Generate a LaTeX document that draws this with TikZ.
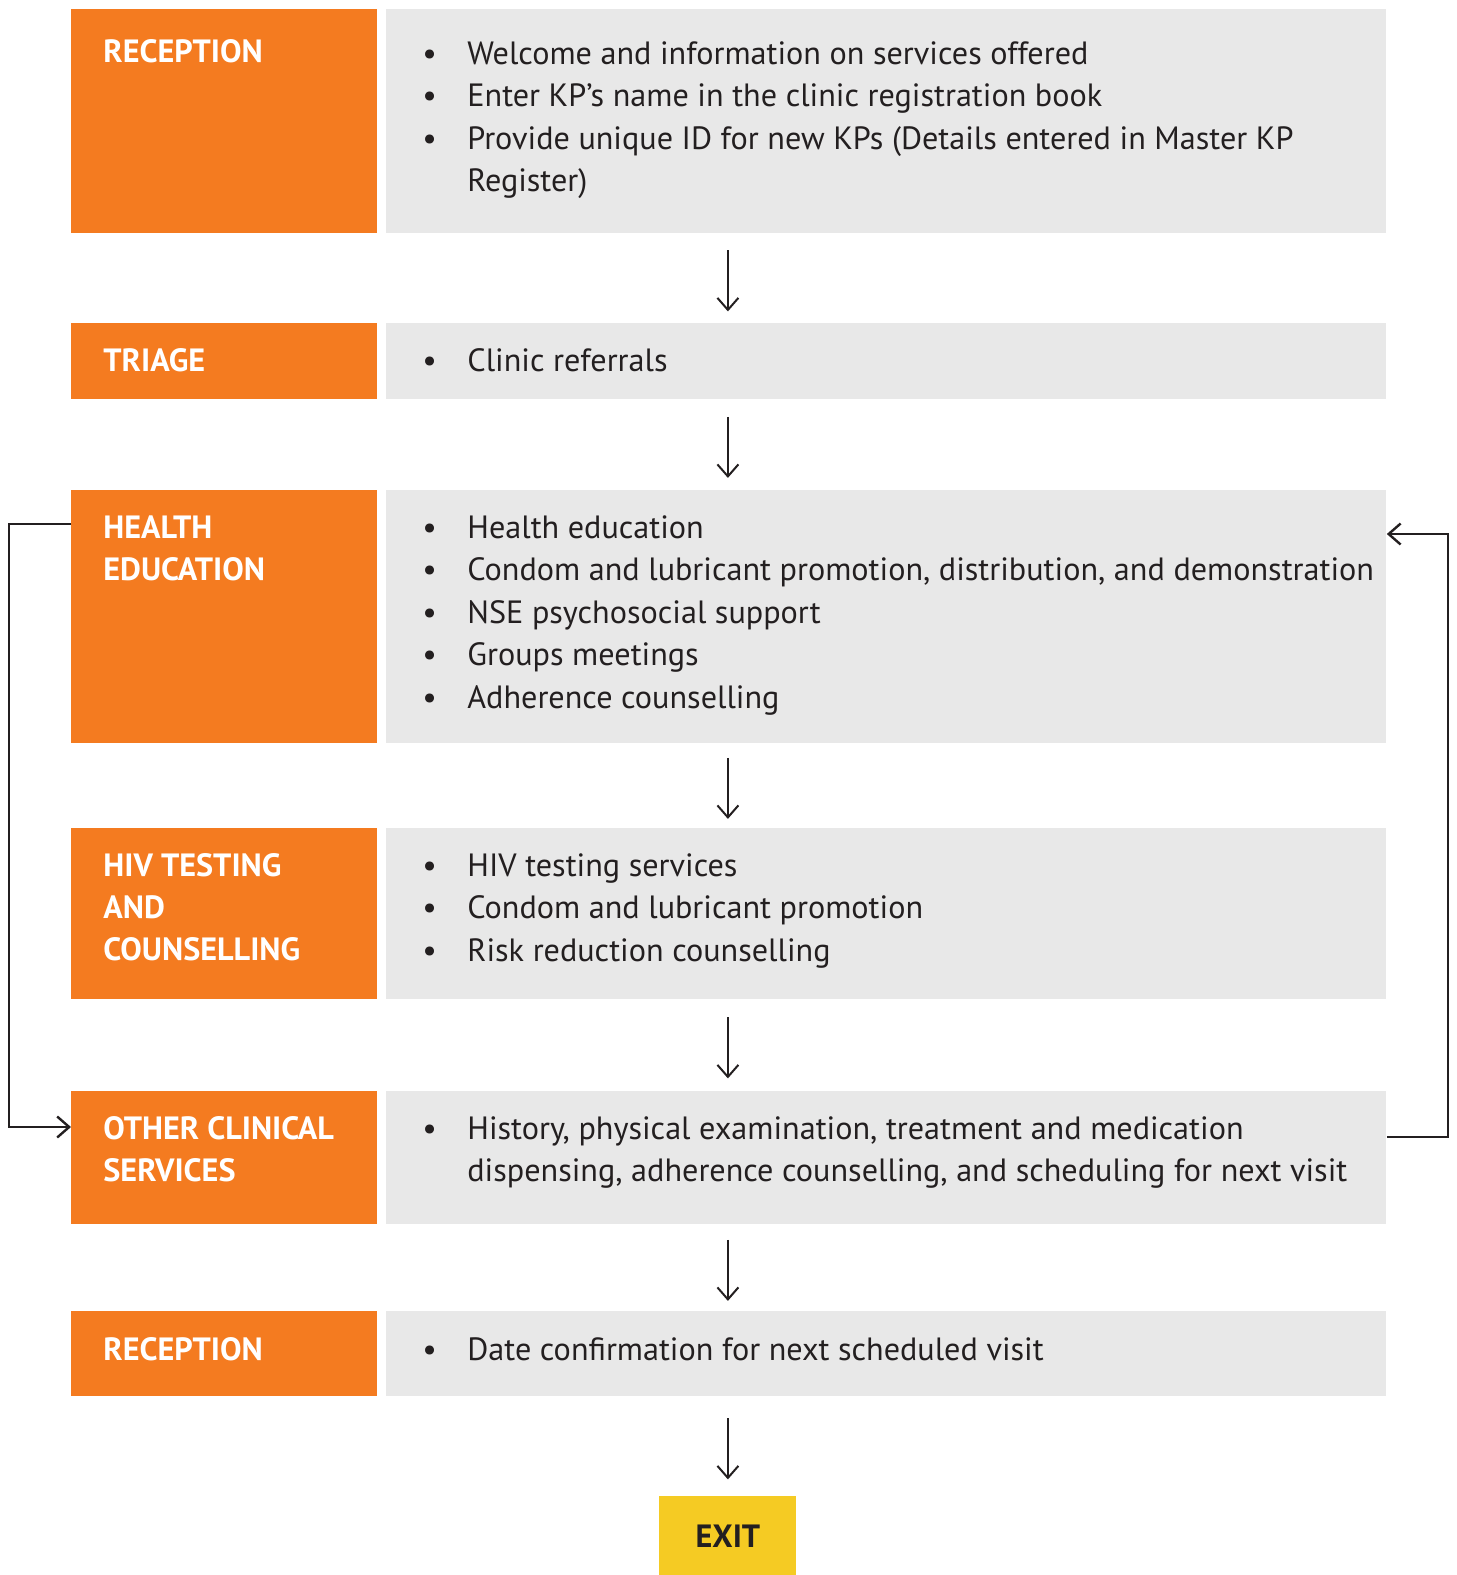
\documentclass[tikz,border=0pt]{standalone}
\usepackage{fontspec}
\setmainfont{PT Sans}
\usepackage{array}
\usetikzlibrary{arrows.meta,calc}

\definecolor{kporange}{HTML}{F47B20}
\definecolor{kpgrey}{HTML}{E8E8E8}
\definecolor{kpyellow}{HTML}{F5CB23}
\definecolor{kpdark}{HTML}{231F20}

% bullet list set as a two column table
\newcommand{\kpitems}[1]{\begin{tabular}[t]{@{}p{22.5pt}@{}>{\raggedright\arraybackslash}p{470pt}@{}}#1\end{tabular}}
% stage name, baseline on its first line
\newcommand{\kplabel}[1]{\begin{tabular}[t]{@{}l@{}}#1\end{tabular}}

\begin{document}
\begin{tikzpicture}[x=0.5pt, y=-0.5pt,
    obox/.style={rectangle, fill=kporange, anchor=north west, inner sep=0pt, minimum width=153pt},
    gbox/.style={rectangle, fill=kpgrey, anchor=north west, inner sep=0pt, minimum width=500pt},
    olab/.style={anchor=base west, inner sep=0pt, text=white,
        font=\fontsize{16.1}{21}\selectfont\bfseries},
    glist/.style={anchor=base west, inner sep=0pt, text=kpdark,
        font=\fontsize{16.1}{21.25}\selectfont},
    flow/.style={-{Straight Barb[length=6pt,width=10.5pt]}, line width=1pt, draw=kpdark},
    back/.style={-{Straight Barb[length=6pt,width=10.5pt]}, line width=1.2pt, draw=kpdark}]
    \useasboundingbox (0,0) rectangle (1457,1575);

    % rows
    \node[obox, minimum height=112pt] (o1) at (71,9) {};
    \node[gbox, minimum height=112pt] (g1) at (386,9) {};
    \node[obox, minimum height=38pt] (o2) at (71,323) {};
    \node[gbox, minimum height=38pt] (g2) at (386,323) {};
    \node[obox, minimum height=126.5pt] (o3) at (71,490) {};
    \node[gbox, minimum height=126.5pt] (g3) at (386,490) {};
    \node[obox, minimum height=85.5pt] (o4) at (71,828) {};
    \node[gbox, minimum height=85.5pt] (g4) at (386,828) {};
    \node[obox, minimum height=66.5pt] (o5) at (71,1091) {};
    \node[gbox, minimum height=66.5pt] (g5) at (386,1091) {};
    \node[obox, minimum height=42.5pt] (o6) at (71,1311) {};
    \node[gbox, minimum height=42.5pt] (g6) at (386,1311) {};
    \node[rectangle, fill=kpyellow, anchor=north west, inner sep=0pt,
        minimum width=68.5pt, minimum height=39.5pt, text=kpdark,
        font=\fontsize{16.1}{21}\selectfont\bfseries] (ex) at (659,1496) {EXIT\hspace{4pt}};

    % stage names
    \node[olab] (t1) at ($(o1.north west)+(32,53)$) {\kplabel{RECEPTION}};
    \node[olab] (t2) at ($(o2.north west)+(32,48)$) {\kplabel{TRIAGE}};
    \node[olab] (t3) at ($(o3.north west)+(32,48)$) {\kplabel{HEALTH\\EDUCATION}};
    \node[olab] (t4) at ($(o4.north west)+(32,48)$) {\kplabel{HIV TESTING\\AND\\COUNSELLING}};
    \node[olab] (t5) at ($(o5.north west)+(32,48)$) {\kplabel{OTHER CLINICAL\\SERVICES}};
    \node[olab] (t6) at ($(o6.north west)+(32,49)$) {\kplabel{RECEPTION}};

    % services
    \node[glist] (l1) at ($(g1.north west)+(36,55)$) {\kpitems{
        \textbullet & Welcome and information on services offered\\
        \textbullet & Enter KP’s name in the clinic registration book\\
        \textbullet & Provide unique ID for new KPs (Details entered in Master KP\newline Register)\\}};
    \node[glist] (l2) at ($(g2.north west)+(36,48)$) {\kpitems{
        \textbullet & Clinic referrals\\}};
    \node[glist] (l3) at ($(g3.north west)+(36,48)$) {\kpitems{
        \textbullet & Health education\\
        \textbullet & Condom and lubricant promotion, distribution, and demonstration\\
        \textbullet & NSE psychosocial support\\
        \textbullet & Groups meetings\\
        \textbullet & Adherence counselling\\}};
    \node[glist] (l4) at ($(g4.north west)+(36,48)$) {\kpitems{
        \textbullet & HIV testing services\\
        \textbullet & Condom and lubricant promotion\\
        \textbullet & Risk reduction counselling\\}};
    \node[glist] (l5) at ($(g5.north west)+(36,48)$) {\kpitems{
        \textbullet & History, physical examination, treatment and medication\newline dispensing, adherence counselling, and scheduling for next visit\\}};
    \node[glist] (l6) at ($(g6.north west)+(36,49)$) {\kpitems{
        \textbullet & Date confirmation for next scheduled visit\\}};

    % flow down the page
    \foreach \a/\b in {g1/g2,g2/g3,g3/g4,g4/g5,g5/g6,g6/ex}
        \draw[flow] ($(ex.north |- \a.south)!.5!(ex.north |- \b.north)+(0,-28)$) -- +(0,61);

    % loops back
    \draw[back] ($(o3.north west)+(0,34)$) -- ++(-62,0) |- ($(o5.north west)+(0,36)$);
    \draw[back] ($(g5.north east)+(0,46)$) -- ++(61,0) |- ($(g3.north east)+(0,44)$);
\end{tikzpicture}
\end{document}
